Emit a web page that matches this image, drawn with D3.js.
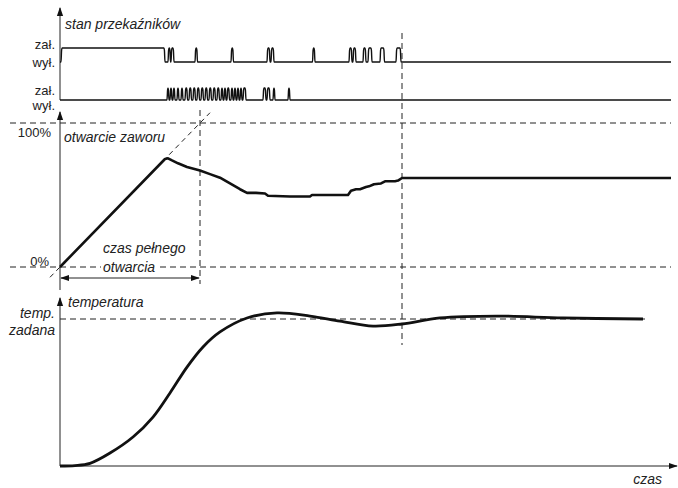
<!DOCTYPE html>
<html>
<head>
<meta charset="utf-8">
<script src="https://cdn.jsdelivr.net/npm/d3@7"></script>
<style>
  body { margin: 0; background: #fff; }
  svg { display: block; }
  text { font-family: "Liberation Sans", Arial, sans-serif; fill: #222; }
</style>
</head>
<body>
<div id="chart"></div>
<script>
// time axis in arbitrary units (czas)
const timeDomain = [0, 611]

// relay 1: on period then short pulses [on, off]
const relay1Pulses = [[1, 105], [108, 110.5], [111, 114], [135, 137.5], [171, 173.5],
  [207, 210], [211, 214], [252.5, 255], [289, 292], [293, 296], [303, 306], [308, 312],
  [320, 324.5], [336, 341]]
// relay 2 pulses
const relay2Pulses = [[107, 109], [110, 112], [113, 115], [117, 119], [121, 123], [125, 127.5],
  [129, 131.5], [133, 135.5], [137, 139.5], [141, 143.5], [145, 147.5], [149, 151.5],
  [153, 155.5], [157, 159.5], [161, 163], [164, 166], [167, 169.5], [171, 173], [174, 176],
  [177, 179], [180, 182], [183, 186], [203, 206], [207, 210], [213, 215], [228, 230]]

// valve opening [t, %]
const valveT = [0, 105, 108, 112, 118, 127, 140, 150, 160, 170, 180, 187, 196, 205, 208, 230, 250,
  252, 270, 288, 291, 296, 300, 306, 309, 314, 321, 325, 335, 338, 342, 611]
const valveV = [0, 75, 75.5, 74, 72, 69.5, 67, 64.5, 62, 58, 54, 51.5, 51.5, 51, 49.5, 49, 49,
  50, 50, 50, 53, 54, 54, 55.5, 56, 57.5, 58, 59.5, 59.5, 60, 61.8, 61.8]

// temperature relative to set point (100 = temp. zadana)
const tempT = [0, 15, 30, 50, 73, 93, 110, 127, 143, 160, 187, 217, 250, 280, 313, 342, 380, 437, 503, 583]
const tempV = [0, 0.3, 1.8, 8.8, 19.7, 33.3, 49.7, 67.3, 81, 91.2, 100.7, 104.1, 102, 98.6, 95.2, 96.6, 100.7, 102, 100.7, 100]

const fullOpenT = 140   // czas pełnego otwarcia
const steadyT = 342     // moment ustalenia

const width = 678, height = 488

const svg = d3.select("#chart").append("svg")
  .attr("width", width).attr("height", height)

const x = d3.scaleLinear().domain(timeDomain).range([60, 671])
const yR1 = d3.scaleLinear().domain([0, 1]).range([62, 48])
const yR2 = d3.scaleLinear().domain([0, 1]).range([100, 88])
const yValve = d3.scaleLinear().domain([0, 100]).range([267, 123])
const yTemp = d3.scaleLinear().domain([0, 100]).range([466, 319])

const defs = svg.append("defs")
defs.append("marker").attr("id", "arr")
  .attr("viewBox", "0 0 10 10").attr("refX", 9).attr("refY", 5)
  .attr("markerWidth", 9).attr("markerHeight", 9).attr("markerUnits", "userSpaceOnUse")
  .attr("orient", "auto-start-reverse")
  .append("path").attr("d", "M0,1.5L10,5L0,8.5Z").attr("fill", "#111")

const dash = "6,4"

function hline(y, x1, x2, dashed, w) {
  svg.append("line").attr("x1", x1).attr("x2", x2).attr("y1", y).attr("y2", y)
    .attr("stroke", "#222").attr("stroke-width", w || 1)
    .attr("stroke-dasharray", dashed ? dash : null)
}
function vline(xp, y1, y2, dashed) {
  svg.append("line").attr("x1", xp).attr("x2", xp).attr("y1", y1).attr("y2", y2)
    .attr("stroke", "#222").attr("stroke-width", 1)
    .attr("stroke-dasharray", dashed ? dash : null)
}

// pulse train -> points (rounded edges)
function pulsePoints(pulses) {
  const pts = [[timeDomain[0], 0]]
  pulses.forEach(p => {
    pts.push([p[0], 0], [p[0] + 0.6, 0.85], [p[0] + 1.1, 1])
    pts.push([p[1] - 1.1, 1], [p[1] - 0.6, 0.85], [p[1], 0])
  })
  pts.push([timeDomain[1], 0])
  return pts
}

// ---- dashed guides
hline(yValve(100), 10, 671, true)
hline(yValve(0), 10, 671, true)
vline(x(fullOpenT), 110, 284, true)
vline(x(steadyT), 33, 345, true)
hline(yTemp(100), 60, 645, true)

// ramp extension
const slope = 75 / 105
svg.append("line")
  .attr("x1", x(-10)).attr("y1", yValve(-10 * slope))
  .attr("x2", x(150)).attr("y2", yValve(150 * slope))
  .attr("stroke", "#222").attr("stroke-dasharray", "5,4")

// ---- axes
svg.append("line").attr("x1", 60).attr("x2", 60).attr("y1", 100).attr("y2", 8)
  .attr("stroke", "#222").attr("marker-end", "url(#arr)")
svg.append("line").attr("x1", 60).attr("x2", 60).attr("y1", 290).attr("y2", 112)
  .attr("stroke", "#222").attr("marker-end", "url(#arr)")
svg.append("line").attr("x1", 60).attr("x2", 60).attr("y1", 466).attr("y2", 298)
  .attr("stroke", "#222").attr("marker-end", "url(#arr)")
svg.append("line").attr("x1", 60).attr("x2", 677).attr("y1", 466).attr("y2", 466)
  .attr("stroke", "#222").attr("marker-end", "url(#arr)")

// ---- relay signals
const relayLine = yS => d3.line().x(d => x(d[0])).y(d => yS(d[1])).curve(d3.curveMonotoneX)
svg.append("path").datum(pulsePoints(relay1Pulses))
  .attr("d", relayLine(yR1)).attr("fill", "none").attr("stroke", "#111").attr("stroke-width", 1.4)
svg.append("path").datum(pulsePoints(relay2Pulses))
  .attr("d", relayLine(yR2)).attr("fill", "none").attr("stroke", "#111").attr("stroke-width", 1.4)

// ---- valve
svg.append("path").datum(d3.zip(valveT, valveV))
  .attr("d", d3.line().x(d => x(d[0])).y(d => yValve(d[1])))
  .attr("fill", "none").attr("stroke", "#111").attr("stroke-width", 2.6)
  .attr("stroke-linejoin", "round")

// ---- temperature
svg.append("path").datum(d3.zip(tempT, tempV))
  .attr("d", d3.line().x(d => x(d[0])).y(d => yTemp(d[1])).curve(d3.curveCatmullRom))
  .attr("fill", "none").attr("stroke", "#111").attr("stroke-width", 2.8)

// ---- czas pełnego otwarcia arrow
svg.append("line").attr("x1", x(0) + 1).attr("x2", x(fullOpenT) - 1)
  .attr("y1", 278).attr("y2", 278).attr("stroke", "#222")
  .attr("marker-start", "url(#arr)").attr("marker-end", "url(#arr)")

// ---- texts
function label(t, xp, yp, anchor, italic, size, bg) {
  const el = svg.append("text").attr("x", xp).attr("y", yp)
    .attr("text-anchor", anchor || "start")
    .style("font-style", italic ? "italic" : "normal")
    .style("font-size", (size || 13) + "px")
    .text(t)
  if (bg) {
    const b = el.node().getBBox()
    svg.insert("rect", "text").attr("x", b.x - 2).attr("y", b.y)
      .attr("width", b.width + 4).attr("height", b.height).attr("fill", "#fff")
  }
  return el
}

label("stan przekaźników", 65, 29, "start", true, 14)
label("zał.", 55, 49, "end", false, 13)
label("wył.", 55, 67, "end", false, 13)
label("zał.", 55, 95, "end", false, 13)
label("wył.", 55, 110, "end", false, 13)
label("100%", 51, 137, "end", false, 13)
label("0%", 49, 266, "end", false, 13)
label("otwarcie zaworu", 64, 142, "start", true, 14)
label("czas pełnego", 103, 253, "start", true, 14)
label("otwarcia", 103, 272, "start", true, 14, true)
label("temperatura", 68, 307, "start", true, 14)
label("temp.", 55, 318, "end", true, 14)
label("zadana", 55, 335, "end", true, 14)
label("czas", 662, 484, "end", true, 14)
</script>
</body>
</html>
